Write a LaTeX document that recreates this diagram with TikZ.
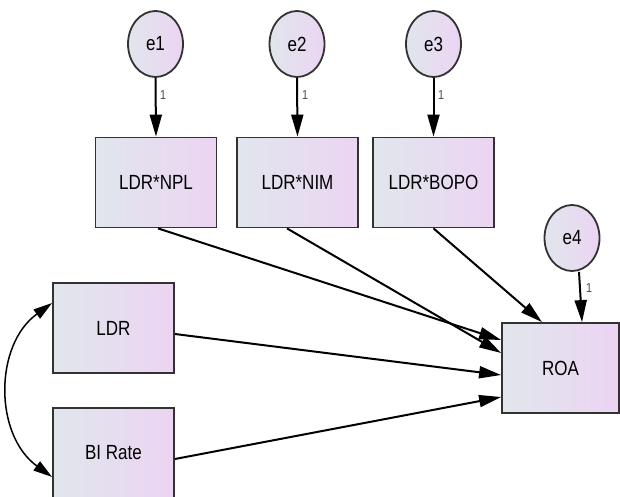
\documentclass[tikz,border=0pt]{standalone}
\usepackage{fontspec}
\setmainfont{Liberation Sans}[FakeStretch=0.83]
\usetikzlibrary{arrows.meta,calc,shapes.geometric}
\definecolor{fillA}{RGB}{224,230,236}
\definecolor{fillB}{RGB}{236,212,243}
\definecolor{edge}{RGB}{50,50,50}
\tikzset{
  obsbox/.style={draw=edge, line width=1.8pt, left color=fillA, right color=fillB,
    minimum width=#1, minimum height=90pt, inner sep=0pt, font=\fontsize{20.5}{22}\selectfont},
  errnode/.style={draw=edge, line width=1.8pt, shape=ellipse, left color=fillA, right color=fillB,
    minimum width=55pt, minimum height=66pt, inner sep=0pt, font=\fontsize{20.5}{22}\selectfont},
  path/.style={draw=black, line width=2pt, -{Triangle[length=22pt,width=12pt]}},
  cov/.style={draw=black, line width=1.5pt, {Triangle[length=19pt,width=11pt]}-{Triangle[length=19pt,width=11pt]}},
  one/.style={font=\fontsize{13}{14}\selectfont, text=black!70, inner sep=0pt}
}
\begin{document}
\begin{tikzpicture}[x=1pt,y=-1pt]
\useasboundingbox (0,0) rectangle (620,497);
% observed boxes
\node[obsbox=121pt] (npl) at (156,182.5) {LDR*NPL};
\node[obsbox=121pt] (nim) at (297.5,182.5) {LDR*NIM};
\node[obsbox=121pt] (bopo) at (433.5,182.5) {LDR*BOPO};
\node[obsbox=121pt] (ldr) at (113.5,328) {LDR};
\node[obsbox=121pt] (bi) at (113.5,453) {BI Rate};
\node[obsbox=117pt] (roa) at (560.5,368) {ROA};
% error terms
\node[errnode] (e1) at (155.5,44) {e1};
\node[errnode] (e2) at (297,44) {e2};
\node[errnode] (e3) at (433.5,44) {e3};
\node[errnode] (e4) at (572,238) {e4};
% error arrows
\draw[path] (e1.south) -- (npl.north);
\draw[path] (e2.south) -- (nim.north);
\draw[path] (e3.south) -- (bopo.north);
\draw[path] ($(e4.south)+(7,0)$) -- ($(roa.north)+(21.5,0)$);
\node[one] (l1) at (163,95) {1};
\node[one] (l2) at (305,95) {1};
\node[one] (l3) at (441,95) {1};
\node[one] (l4) at (589,288) {1};
% structural paths
\draw[path] ($(npl.south)+(2,0)$) -- ($(roa.west)+(0,-28)$);
\draw[path] ($(nim.south)+(-10.5,0)$) -- ($(roa.west)+(0,-15)$);
\draw[path] (bopo.south) -- ($(roa.north)+(-18.5,0)$);
\draw[path] ($(ldr.east)+(0,6)$) -- ($(roa.west)+(0,7)$);
\draw[path] ($(bi.east)+(0,6)$) -- ($(roa.west)+(0,29)$);
% covariance
\draw[cov] ($(ldr.west)+(0,-25)$) .. controls (-6,345) and (-6,435) .. ($(bi.west)+(0,24)$);
\end{tikzpicture}
\end{document}
